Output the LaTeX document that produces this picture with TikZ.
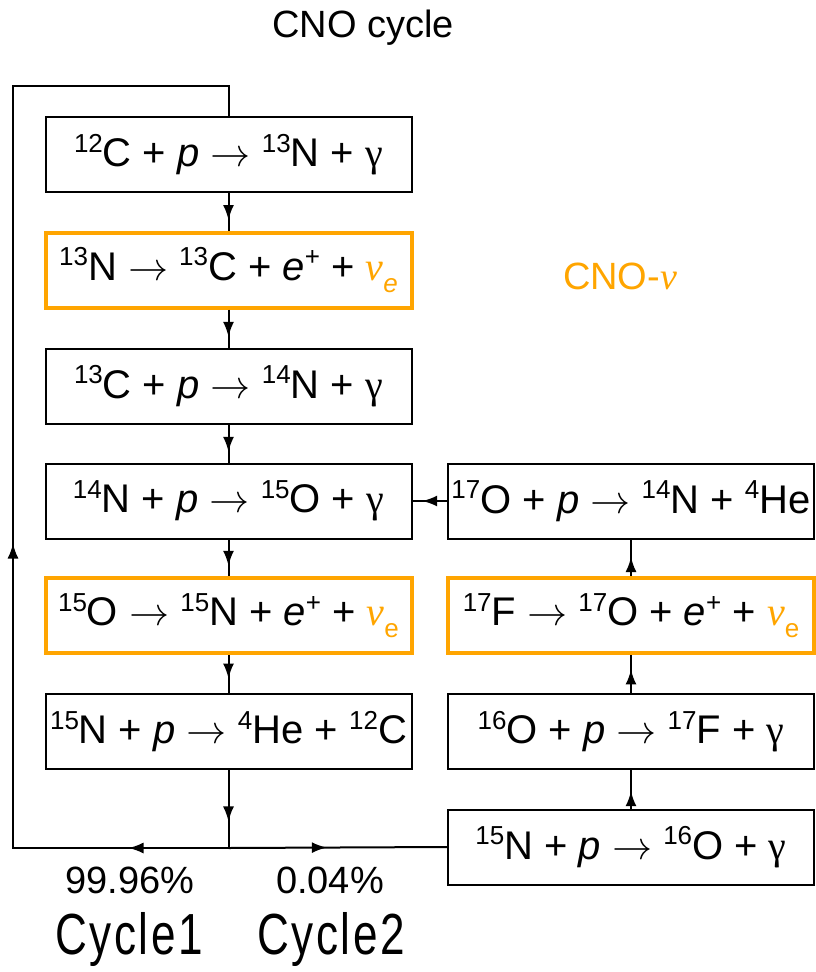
\documentclass[tikz,border=0pt]{standalone}
\usepackage{graphicx}
\usepackage{fontspec}
\setmainfont{Liberation Sans}
\newfontfamily\grk{Liberation Serif}
\newfontfamily\lmm{latinmodern-math.otf}
\newfontfamily\cyc[LetterSpace=6]{Liberation Sans}
\usetikzlibrary{arrows.meta,decorations.markings,calc}
\definecolor{cnoorange}{HTML}{FFA500}
\newcommand\nuc[2]{\raisebox{0.36em}{\fontsize{26}{26}\selectfont #1}#2}
\newcommand\nuei{\textcolor{cnoorange}{{\grk\itshape ν}\raisebox{-0.3em}{\fontsize{26}{26}\selectfont\itshape e}}}
\newcommand\nueu{\textcolor{cnoorange}{{\grk\itshape ν}\raisebox{-0.3em}{\fontsize{26}{26}\selectfont e}}}
\newcommand\gam{{\grk γ}}
\newcommand\pp{\textit{p}}
\newcommand\ep{\textit{e}\raisebox{0.36em}{\fontsize{26}{26}\selectfont +}}
\newcommand\arr{{\lmm →}}
\tikzset{ctip/.tip={Latex[length=15pt,width=11pt]}}
\begin{document}
\begin{tikzpicture}[x=1pt,y=-1pt,
  box/.style={draw, line width=2pt, minimum width=366pt, minimum height=75pt, inner sep=0pt, font=\fontsize{40}{44}\selectfont},
  obox/.style={box, draw=cnoorange, line width=4pt},
  lw/.style={line width=2pt},
  marr/.style={lw, postaction={decorate}, decoration={markings, mark=at position #1 with {\arrow{ctip}}}},
  lbl/.style={font=\fontsize{38}{42}\selectfont, inner sep=0pt},
  cyclbl/.style={font=\cyc\fontsize{58}{62}\selectfont, inner sep=0pt}]
\useasboundingbox (0,0) rectangle (816,972);

\node[lbl] (title) at (363,28) {CNO cycle};
\node[lbl, text=cnoorange] (cnonu) at (620,276) {CNO-{\grk\itshape ν}};

\node[box]  (b1) at (228.5,154.5) {\nuc{12}{C} + \pp{} \arr{} \nuc{13}{N} + \gam};
\node[obox] (b2) at (228.5,270) {\nuc{13}{N} \arr{} \nuc{13}{C} + \ep{} + \nuei};
\node[box]  (b3) at (228.5,386) {\nuc{13}{C} + \pp{} \arr{} \nuc{14}{N} + \gam};
\node[box]  (b4) at (228.5,501) {\nuc{14}{N} + \pp{} \arr{} \nuc{15}{O} + \gam};
\node[obox] (b5) at (228.5,615.5) {\nuc{15}{O} \arr{} \nuc{15}{N} + \ep{} + \nueu};
\node[box]  (b6) at (228.5,731.5) {\nuc{15}{N} + \pp{} \arr{} \nuc{4}{He} + \nuc{12}{C}};

\node[box]  (r1) at (631,501) {\nuc{17}{O} + \pp{} \arr{} \nuc{14}{N} + \nuc{4}{He}};
\node[obox] (r2) at (631,615.5) {\nuc{17}{F} \arr{} \nuc{17}{O} + \ep{} + \nueu};
\node[box]  (r3) at (631,731.5) {\nuc{16}{O} + \pp{} \arr{} \nuc{17}{F} + \gam};
\node[box]  (r4) at (631,847) {\nuc{15}{N} + \pp{} \arr{} \nuc{16}{O} + \gam};

\coordinate (split) at (228.5,848);
\coordinate (ll) at (13,848);
\coordinate (tl) at (13,86);
\coordinate (tr) at (228.5,86);

\draw[marr=0.72] (b1.south) -- (b2.north);
\draw[marr=0.72] (b2.south) -- (b3.north);
\draw[marr=0.72] (b3.south) -- (b4.north);
\draw[marr=0.72] (b4.south) -- (b5.north);
\draw[marr=0.62] (b5.south) -- (b6.north);
\draw[marr=0.66] (b6.south) -- (split);

\draw[lw, line join=miter, postaction={decorate}, decoration={markings,
   mark=at position 100pt with {\arrow{ctip}},
   mark=at position 520pt with {\arrow{ctip}}}]
  (split) -- (ll) -- (tl) -- (tr) -- (b1.north);

\draw[marr=0.45] (split) -- (r4.west);
\draw[marr=0.45] (r4.north) -- (r3.south);
\draw[marr=0.62] (r3.north) -- (r2.south);
\draw[marr=0.52] (r2.north) -- (r1.south);
\draw[marr=0.72] (r1.west) -- (b4.east);

\node[lbl] (p1) at (130,880) {99.96\%};
\node[lbl] (p2) at (330,880) {0.04\%};
\node[cyclbl] (c1) at (129,939) {\scalebox{0.76}[1]{Cycle1}};
\node[cyclbl] (c2) at (331,939) {\scalebox{0.76}[1]{Cycle2}};
\end{tikzpicture}
\end{document}
